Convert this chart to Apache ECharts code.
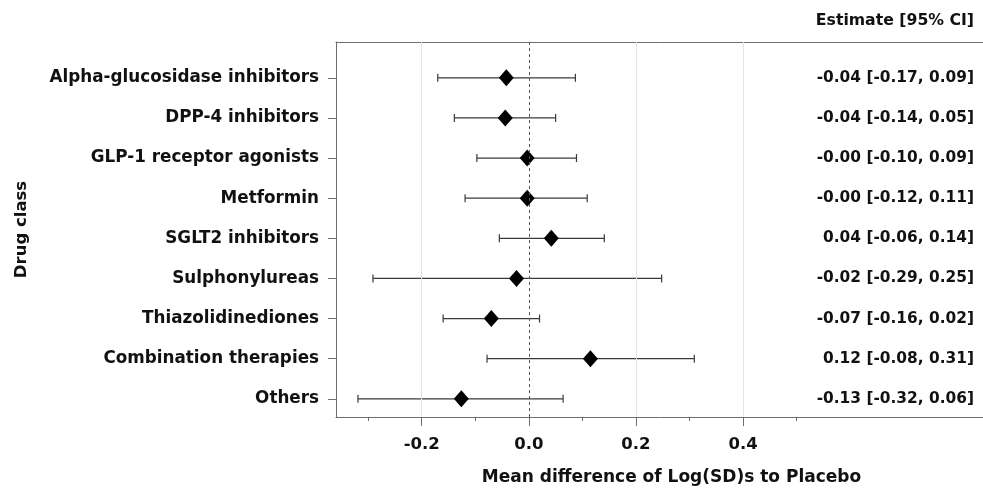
<!DOCTYPE html>
<html>
<head>
<meta charset="utf-8">
<script src="https://cdn.jsdelivr.net/npm/echarts@6/dist/echarts.min.js"></script>
<style>html,body{margin:0;padding:0;background:#fff}#c{width:983px;height:491px}</style>
</head>
<body>
<div id="c"></div>
<script>
const categories = ["Alpha-glucosidase inhibitors", "DPP-4 inhibitors", "GLP-1 receptor agonists", "Metformin", "SGLT2 inhibitors", "Sulphonylureas", "Thiazolidinediones", "Combination therapies", "Others"];
const estimates = [-0.042, -0.044, -0.003, -0.003, 0.042, -0.023, -0.070, 0.115, -0.126];
const lowerCI = [-0.170, -0.139, -0.097, -0.119, -0.055, -0.291, -0.160, -0.078, -0.319];
const upperCI = [0.087, 0.050, 0.089, 0.109, 0.141, 0.248, 0.020, 0.309, 0.064];
const ciLabels = ["-0.04 [-0.17, 0.09]", "-0.04 [-0.14, 0.05]", "-0.00 [-0.10, 0.09]", "-0.00 [-0.12, 0.11]", "0.04 [-0.06, 0.14]", "-0.02 [-0.29, 0.25]", "-0.07 [-0.16, 0.02]", "0.12 [-0.08, 0.31]", "-0.13 [-0.32, 0.06]"];
const xMajorTicks = [-0.2, 0.0, 0.2, 0.4];
const xMinorTicks = [-0.3, -0.1, 0.1, 0.3, 0.5];
const gridLineValues = [-0.2, 0.2, 0.4];
const refValue = 0;

const n = categories.length;
const rowPos = categories.map((_, i) => n - i);
const FONT = 'DejaVu Sans';
const txt = {fontFamily: FONT, fontWeight: 'bold', fontSize: 16, color: '#111'};
const AX = '#6e6e6e';

const chart = echarts.init(document.getElementById('c'), null, {renderer: 'canvas'});
const xMin = -0.36, xMax = 0.848;
const yMin = 0.546, yMax = 9.892;

chart.setOption({
  animation: false,
  title: {text: 'Estimate [95% CI]', right: 9, top: 13, padding: 0, textStyle: Object.assign({}, txt, {fontSize: 15.7})},
  grid: {left: 336, right: 0, top: 42, bottom: 71},
  xAxis: [
    {type: 'value', min: xMin, max: xMax, position: 'bottom',
     name: 'Mean difference of Log(SD)s to Placebo', nameLocation: 'middle', nameGap: 52,
     nameTextStyle: Object.assign({}, txt, {fontSize: 17, padding: [0, 0, 0, 24]}),
     axisLine: {show: true, onZero: false, lineStyle: {color: AX, width: 1}},
     axisTick: {show: true, customValues: xMajorTicks, length: 9, lineStyle: {color: AX}},
     axisLabel: {show: true, customValues: xMajorTicks, margin: 19, formatter: v => v.toFixed(1), fontFamily: FONT, fontWeight: 'bold', fontSize: 16.5, color: '#111'},
     splitLine: {show: false}},
    {type: 'value', min: xMin, max: xMax, position: 'bottom',
     axisLine: {show: false, onZero: false},
     axisTick: {show: true, customValues: xMinorTicks, length: 4, lineStyle: {color: AX}},
     axisLabel: {show: false}, splitLine: {show: false}},
    {type: 'value', min: xMin, max: xMax, position: 'top',
     axisLine: {show: true, onZero: false, lineStyle: {color: AX, width: 1}},
     axisTick: {show: false}, axisLabel: {show: false}, splitLine: {show: false}}
  ],
  yAxis: [
    {type: 'value', min: yMin, max: yMax, position: 'left',
     name: 'Drug class', nameLocation: 'middle', nameGap: 306, nameRotate: 90,
     nameTextStyle: Object.assign({}, txt, {fontSize: 16.5, padding: [0, 0, 0, 0]}),
     axisLine: {show: true, onZero: false, lineStyle: {color: AX, width: 1}},
     axisTick: {show: true, customValues: rowPos, length: 8, lineStyle: {color: AX}},
     axisLabel: {show: true, customValues: rowPos, margin: 17, formatter: v => categories[n - Math.round(v)], fontFamily: FONT, fontWeight: 'bold', fontSize: 16.8, color: '#111'},
     splitLine: {show: false}},
    {type: 'value', min: yMin, max: yMax, position: 'right',
     axisLine: {show: false, onZero: false}, axisTick: {show: false},
     axisLabel: {show: true, inside: true, customValues: rowPos, margin: 9, formatter: v => ciLabels[n - Math.round(v)], fontFamily: FONT, fontWeight: 'bold', fontSize: 15.4, color: '#111'},
     splitLine: {show: false}}
  ],
  series: [
    {type: 'custom', xAxisIndex: 0, yAxisIndex: 0,
     data: categories.map((c, i) => [estimates[i], lowerCI[i], upperCI[i], rowPos[i]]),
     encode: {x: [1, 2], y: 3},
     renderItem: function (params, api) {
       const y = api.value(3);
       const a = api.coord([api.value(1), y]);
       const b = api.coord([api.value(2), y]);
       const h = 4;
       const st = {stroke: '#3a3a3a', lineWidth: 1.2};
       return {type: 'group', children: [
         {type: 'line', shape: {x1: a[0], y1: a[1], x2: b[0], y2: b[1]}, style: st},
         {type: 'line', shape: {x1: a[0], y1: a[1] - h, x2: a[0], y2: a[1] + h}, style: st},
         {type: 'line', shape: {x1: b[0], y1: b[1] - h, x2: b[0], y2: b[1] + h}, style: st}
       ]};
     },
     markLine: {silent: true, symbol: 'none', label: {show: false},
       lineStyle: {color: '#555', type: [3, 3], width: 1},
       data: [{xAxis: refValue}]},
     z: 3},
    {type: 'scatter', xAxisIndex: 0, yAxisIndex: 0,
     data: categories.map((c, i) => [estimates[i], rowPos[i]]),
     symbol: 'diamond', symbolSize: [15, 17],
     itemStyle: {color: '#000', opacity: 1},
     markLine: {silent: true, symbol: 'none', label: {show: false},
       lineStyle: {color: '#e4e4e4', type: 'solid', width: 1},
       data: gridLineValues.map(v => ({xAxis: v}))},
     z: 4}
  ]
});
</script>
</body>
</html>
